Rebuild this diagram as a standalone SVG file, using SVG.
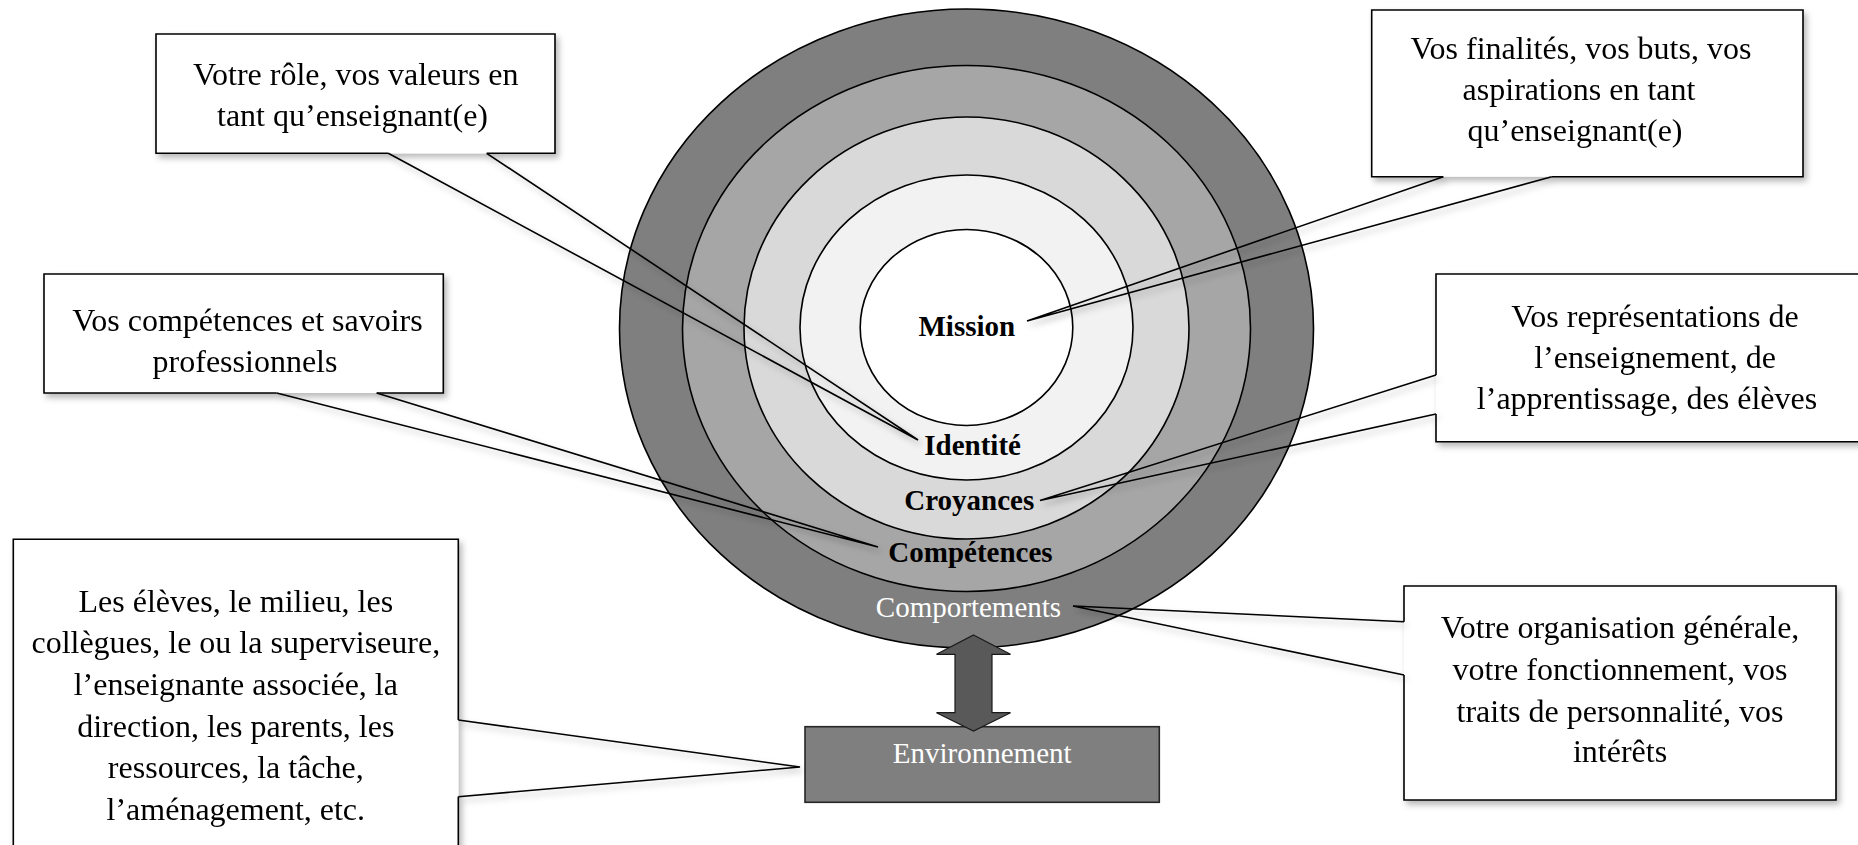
<svg xmlns="http://www.w3.org/2000/svg" width="1858" height="845" viewBox="0 0 1858 845">
<defs>
<filter id="sh" x="-20%" y="-20%" width="140%" height="140%">
<feDropShadow dx="3" dy="4" stdDeviation="3" flood-color="#000" flood-opacity="0.28"/>
</filter>
<style>
.ring{stroke:#000;stroke-width:1.6}
.lbl{font-family:"Liberation Serif","Times New Roman",serif;font-size:29px;font-weight:bold;fill:#000;text-anchor:middle}
.wlbl{font-family:"Liberation Serif","Times New Roman",serif;font-size:29px;fill:#fff;text-anchor:middle}
.box{fill:#fff;stroke:none}
.edge{fill:none;stroke:#000;stroke-width:1.6;stroke-linejoin:miter}
.txt{font-family:"Liberation Serif","Times New Roman",serif;font-size:32px;fill:#000;text-anchor:middle}
.tail{fill:none;stroke:#000;stroke-width:1.6}
</style>
</defs>
<rect width="1858" height="845" fill="#fff"/>

<g id="comportements">
<ellipse class="ring" cx="966.5" cy="328.5" rx="347" ry="319.5" fill="#7F7F7F"/>
</g>
<g id="competences">
<ellipse class="ring" cx="966.5" cy="328.5" rx="284" ry="263" fill="#A6A6A6"/>
</g>
<g id="croyances">
<ellipse class="ring" cx="966.5" cy="328" rx="222.5" ry="211" fill="#D9D9D9"/>
</g>
<g id="identite">
<ellipse class="ring" cx="966.5" cy="327.5" rx="166.5" ry="152.5" fill="#F2F2F2"/>
</g>
<g id="mission">
<ellipse class="ring" cx="966.5" cy="327.5" rx="106.3" ry="98" fill="#FFFFFF"/>
</g>
<g id="ring-labels">
<text class="lbl" x="966.8" y="335.5">Mission</text>
<text class="lbl" x="972.6" y="454.5">Identité</text>
<text class="lbl" x="969.3" y="510">Croyances</text>
<text class="lbl" x="970.5" y="561.8">Compétences</text>
<text class="wlbl" x="968.5" y="616.7">Comportements</text>
</g>

<g id="environnement">
<rect x="805" y="726.7" width="354.3" height="75.6" fill="#7F7F7F" stroke="#262626" stroke-width="1.6"/>
<text class="wlbl" x="982.2" y="763.3">Environnement</text>
</g>

<g id="callout-identite" filter="url(#sh)">
<rect class="box" x="156" y="34" width="399" height="119.3"/>
<path class="edge" d="M388.3,153.3 H156 V34 H555 V153.3 H486.7"/>
<text class="txt" x="355.8" y="85">Votre rôle, vos valeurs en</text>
<text class="txt" x="352.5" y="126">tant qu’enseignant(e)</text>
</g>

<g id="callout-mission" filter="url(#sh)">
<rect class="box" x="1371.7" y="10" width="431.3" height="166.7"/>
<path class="edge" d="M1443.3,176.7 H1371.7 V10 H1803 V176.7 H1551.7"/>
<text class="txt" x="1581" y="59">Vos finalités, vos buts, vos</text>
<text class="txt" x="1579" y="100">aspirations en tant</text>
<text class="txt" x="1575" y="141">qu’enseignant(e)</text>
</g>

<g id="callout-competences" filter="url(#sh)">
<rect class="box" x="44" y="274" width="399.3" height="119"/>
<path class="edge" d="M276.7,393 H44 V274 H443.3 V393 H376.7"/>
<text class="txt" x="247.5" y="331">Vos compétences et savoirs</text>
<text class="txt" x="245" y="372">professionnels</text>
</g>

<g id="callout-croyances" filter="url(#sh)">
<rect class="box" x="1436" y="274" width="434" height="167.7"/>
<path class="edge" d="M1436,375 V274 H1870 V441.7 H1436 V414"/>
<text class="txt" x="1655" y="326.5">Vos représentations de</text>
<text class="txt" x="1655" y="367.5">l’enseignement, de</text>
<text class="txt" x="1647" y="408.5">l’apprentissage, des élèves</text>
</g>

<g id="callout-environnement" filter="url(#sh)">
<rect class="box" x="13.3" y="539.3" width="445" height="330"/>
<path class="edge" d="M458.3,796.7 V870 H13.3 V539.3 H458.3 V720"/>
<text class="txt" x="235.8" y="611.7">Les élèves, le milieu, les</text>
<text class="txt" x="235.8" y="653.3">collègues, le ou la superviseure,</text>
<text class="txt" x="235.8" y="695">l’enseignante associée, la</text>
<text class="txt" x="235.8" y="736.7">direction, les parents, les</text>
<text class="txt" x="235.8" y="778.3">ressources, la tâche,</text>
<text class="txt" x="235.8" y="820">l’aménagement, etc.</text>
</g>

<g id="callout-comportements" filter="url(#sh)">
<rect class="box" x="1404" y="586" width="432" height="214"/>
<path class="edge" d="M1404,621.7 V586 H1836 V800 H1404 V675"/>
<text class="txt" x="1620" y="638.3">Votre organisation générale,</text>
<text class="txt" x="1620" y="680">votre fonctionnement, vos</text>
<text class="txt" x="1620" y="721.7">traits de personnalité, vos</text>
<text class="txt" x="1620" y="762">intérêts</text>
</g>

<g id="connectors">
<g filter="url(#sh)">
<path class="tail" d="M388.3,153.3 L918,440 L486.7,153.3"/>
<path class="tail" d="M1443.3,176.7 L1027,321 L1551.7,176.7"/>
<path class="tail" d="M276.7,393 L878,547 L376.7,393"/>
<path class="tail" d="M1436,375 L1040,500.5 L1436,414"/>
<path class="tail" d="M458.3,720 L800,767 L458.3,796.7"/>
<path class="tail" d="M1404,621.7 L1073,606 L1404,675"/>
</g>
<polygon id="double-arrow" points="973.5,635 1010.5,654.3 992,654.3 992,712.7 1010.5,712.7 973.5,731 936.5,712.7 955,712.7 955,654.3 936.5,654.3" fill="#595959" stroke="#1a1a1a" stroke-width="1.2"/>
</g>
</svg>
